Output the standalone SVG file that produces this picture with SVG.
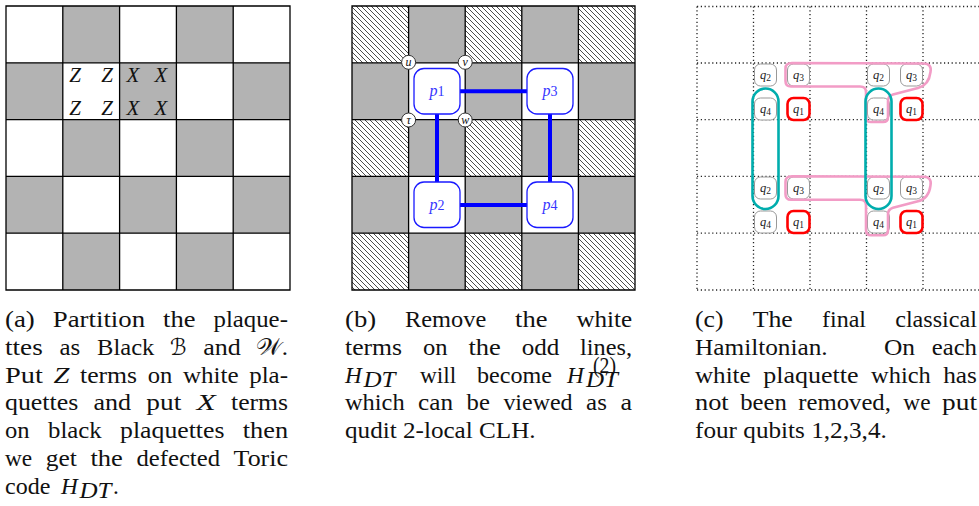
<svg xmlns="http://www.w3.org/2000/svg" width="979" height="506" viewBox="0 0 979 506">
<style>
.gray{fill:#b3b3b3}
.gl{stroke:#000;stroke-width:1.3;fill:none}
.dot{stroke:#222;stroke-width:1.3;stroke-dasharray:1.2 2.6;fill:none}
.cap text{font-family:"Liberation Serif","DejaVu Serif","DejaVu Sans",serif;font-size:23.3px;fill:#111}
.it{font-style:italic}
.mi{font-family:"Liberation Serif","DejaVu Serif",serif;font-style:italic;font-size:21px;fill:#111}
.pbox{fill:#fff;stroke:#1a1aff;stroke-width:1.3}
.plab{font-family:"Liberation Serif",serif;font-size:16px;fill:#3535ff;text-anchor:middle}
.edge{stroke:#0000ff;stroke-width:4;fill:none}
.vc{fill:#fff;stroke:#333;stroke-width:1}
.vl{font-family:"Liberation Serif",serif;font-style:italic;font-size:12px;fill:#111;text-anchor:middle}
.qb{fill:#fff;stroke:#999;stroke-width:1}
.qr{fill:#fff;stroke:#ff0000;stroke-width:2.6}
.ql{font-family:"Liberation Serif",serif;font-size:12.5px;fill:#222;text-anchor:middle}
.teal{fill:none;stroke:#00adad;stroke-width:2.6}
.pink{fill:none;stroke:#f29cc6;stroke-width:2.6}
</style>
<defs>
<pattern id="hatch" patternUnits="userSpaceOnUse" width="5" height="5">
<path d="M-1,-1 L6,6 M-1,4 L1,6 M4,-1 L6,1" stroke="#000" stroke-width="0.7"/>
</pattern>
<g id="qbox"><rect x="-11" y="-11" width="22" height="22" rx="6"/></g>
</defs>
<rect width="979" height="506" fill="#fff"/>

<!-- Panel (a) -->
<g id="panel-a">
<g class="gray">
<rect x="62.8" y="6" width="56.8" height="56.8"/><rect x="176.4" y="6" width="56.8" height="56.8"/>
<rect x="6" y="62.8" width="56.8" height="56.8"/><rect x="119.6" y="62.8" width="56.8" height="56.8"/><rect x="233.2" y="62.8" width="56.8" height="56.8"/>
<rect x="62.8" y="119.6" width="56.8" height="56.8"/><rect x="176.4" y="119.6" width="56.8" height="56.8"/>
<rect x="6" y="176.4" width="56.8" height="56.8"/><rect x="119.6" y="176.4" width="56.8" height="56.8"/><rect x="233.2" y="176.4" width="56.8" height="56.8"/>
<rect x="62.8" y="233.2" width="56.8" height="56.8"/><rect x="176.4" y="233.2" width="56.8" height="56.8"/>
</g>
<path class="gl" d="M6,6H290V290H6Z M62.8,6V290 M119.6,6V290 M176.4,6V290 M233.2,6V290 M6,62.8H290 M6,119.6H290 M6,176.4H290 M6,233.2H290"/>
<g class="mi" text-anchor="middle">
<text x="75" y="82">Z</text><text x="107" y="82">Z</text><text x="133" y="82">X</text><text x="161" y="82">X</text>
<text x="75" y="115">Z</text><text x="107" y="115">Z</text><text x="133" y="115">X</text><text x="161" y="115">X</text>
</g>
</g>

<!-- Panel (b) -->
<g id="panel-b">
<g class="gray">
<rect x="408.6" y="6" width="56.6" height="56.8"/><rect x="521.8" y="6" width="56.6" height="56.8"/>
<rect x="352" y="62.8" width="56.6" height="56.8"/><rect x="465.2" y="62.8" width="56.6" height="56.8"/><rect x="578.4" y="62.8" width="56.6" height="56.8"/>
<rect x="408.6" y="119.6" width="56.6" height="56.8"/><rect x="521.8" y="119.6" width="56.6" height="56.8"/>
<rect x="352" y="176.4" width="56.6" height="56.8"/><rect x="465.2" y="176.4" width="56.6" height="56.8"/><rect x="578.4" y="176.4" width="56.6" height="56.8"/>
<rect x="408.6" y="233.2" width="56.6" height="56.8"/><rect x="521.8" y="233.2" width="56.6" height="56.8"/>
</g>
<g fill="url(#hatch)">
<rect x="352" y="6" width="56.6" height="56.8"/><rect x="465.2" y="6" width="56.6" height="56.8"/><rect x="578.4" y="6" width="56.6" height="56.8"/>
<rect x="352" y="119.6" width="56.6" height="56.8"/><rect x="465.2" y="119.6" width="56.6" height="56.8"/><rect x="578.4" y="119.6" width="56.6" height="56.8"/>
<rect x="352" y="233.2" width="56.6" height="56.8"/><rect x="465.2" y="233.2" width="56.6" height="56.8"/><rect x="578.4" y="233.2" width="56.6" height="56.8"/>
</g>
<path class="gl" d="M352,6H635V290H352Z M408.6,6V290 M465.2,6V290 M521.8,6V290 M578.4,6V290 M352,62.8H635 M352,119.6H635 M352,176.4H635 M352,233.2H635"/>
</g>

<g id="connectors">
<path class="edge" d="M460,91.2H527 M460,205H527 M437,114V182 M550,114V182"/>
</g>

<g id="p1"><rect class="pbox" x="414" y="68.5" width="46" height="45.5" rx="10"/><text class="plab" x="437" y="96"><tspan font-style="italic">p</tspan><tspan font-size="14">1</tspan></text></g>
<g id="p3"><rect class="pbox" x="527" y="68.5" width="46" height="45.5" rx="10"/><text class="plab" x="550" y="96"><tspan font-style="italic">p</tspan><tspan font-size="14">3</tspan></text></g>
<g id="p2"><rect class="pbox" x="414" y="182" width="46" height="45.5" rx="10"/><text class="plab" x="437" y="209.5"><tspan font-style="italic">p</tspan><tspan font-size="14">2</tspan></text></g>
<g id="p4"><rect class="pbox" x="527" y="182" width="46" height="45.5" rx="10"/><text class="plab" x="550" y="209.5"><tspan font-style="italic">p</tspan><tspan font-size="14">4</tspan></text></g>

<g id="u"><circle class="vc" cx="408.6" cy="62.3" r="7"/><text class="vl" x="408.6" y="65.5">u</text></g>
<g id="v"><circle class="vc" cx="465.2" cy="62.3" r="7"/><text class="vl" x="465.2" y="65.5">v</text></g>
<g id="tau"><circle class="vc" cx="408.6" cy="120" r="7"/><text class="vl" x="408.6" y="123.5">τ</text></g>
<g id="w"><circle class="vc" cx="465.2" cy="120" r="7"/><text class="vl" x="465.2" y="123.5">w</text></g>

<!-- Panel (c) -->
<g id="panel-c">
<path class="dot" d="M697,6.5V290 M753.5,6.5V290 M810,6.5V290 M866.5,6.5V290 M923,6.5V290 M697,6.5H979 M697,63H979 M697,119.6H979 M697,176.4H979 M697,233.2H979 M697,290H979"/>
</g>

<g id="qubits">
<g class="qb">
<use href="#qbox" x="765.5" y="75"/><use href="#qbox" x="798.5" y="75"/><use href="#qbox" x="878.5" y="75"/><use href="#qbox" x="911.5" y="75"/>
<use href="#qbox" x="765.5" y="109"/><use href="#qbox" x="878.5" y="109"/>
<use href="#qbox" x="765.5" y="188"/><use href="#qbox" x="798.5" y="188"/><use href="#qbox" x="878.5" y="188"/><use href="#qbox" x="911.5" y="188"/>
<use href="#qbox" x="765.5" y="222"/><use href="#qbox" x="878.5" y="222"/>
</g>
<g class="qr">
<use href="#qbox" x="798.5" y="109"/><use href="#qbox" x="911.5" y="109"/>
<use href="#qbox" x="798.5" y="222"/><use href="#qbox" x="911.5" y="222"/>
</g>
<g class="ql">
<text x="765.5" y="79"><tspan font-style="italic">q</tspan><tspan font-size="9.5" dy="1.5">2</tspan></text>
<text x="798.5" y="79"><tspan font-style="italic">q</tspan><tspan font-size="9.5" dy="1.5">3</tspan></text>
<text x="878.5" y="79"><tspan font-style="italic">q</tspan><tspan font-size="9.5" dy="1.5">2</tspan></text>
<text x="911.5" y="79"><tspan font-style="italic">q</tspan><tspan font-size="9.5" dy="1.5">3</tspan></text>
<text x="765.5" y="113"><tspan font-style="italic">q</tspan><tspan font-size="9.5" dy="1.5">4</tspan></text>
<text x="798.5" y="113"><tspan font-style="italic">q</tspan><tspan font-size="9.5" dy="1.5">1</tspan></text>
<text x="878.5" y="113"><tspan font-style="italic">q</tspan><tspan font-size="9.5" dy="1.5">4</tspan></text>
<text x="911.5" y="113"><tspan font-style="italic">q</tspan><tspan font-size="9.5" dy="1.5">1</tspan></text>
<text x="765.5" y="192"><tspan font-style="italic">q</tspan><tspan font-size="9.5" dy="1.5">2</tspan></text>
<text x="798.5" y="192"><tspan font-style="italic">q</tspan><tspan font-size="9.5" dy="1.5">3</tspan></text>
<text x="878.5" y="192"><tspan font-style="italic">q</tspan><tspan font-size="9.5" dy="1.5">2</tspan></text>
<text x="911.5" y="192"><tspan font-style="italic">q</tspan><tspan font-size="9.5" dy="1.5">3</tspan></text>
<text x="765.5" y="226"><tspan font-style="italic">q</tspan><tspan font-size="9.5" dy="1.5">4</tspan></text>
<text x="798.5" y="226"><tspan font-style="italic">q</tspan><tspan font-size="9.5" dy="1.5">1</tspan></text>
<text x="878.5" y="226"><tspan font-style="italic">q</tspan><tspan font-size="9.5" dy="1.5">4</tspan></text>
<text x="911.5" y="226"><tspan font-style="italic">q</tspan><tspan font-size="9.5" dy="1.5">1</tspan></text>
</g>
</g>

<g id="groups">
<path class="pink" d="M792,63 L924,63.5 Q932,64 930.5,72 Q929,85 918,88 L893,94.5 Q888,96 888,101 L888,117 Q888,122 883,122 L871,122 Q866,122 866,117 L866,92 Q866,86.5 860,86.5 L791,86.5 Q785.5,86.5 785.5,81 L785.5,68.5 Q785.5,63 792,63 Z"/>
<path class="pink" transform="translate(0,113.3)" d="M792,63 L924,63.5 Q932,64 930.5,72 Q929,85 918,88 L893,94.5 Q888,96 888,101 L888,117 Q888,122 883,122 L871,122 Q866,122 866,117 L866,92 Q866,86.5 860,86.5 L791,86.5 Q785.5,86.5 785.5,81 L785.5,68.5 Q785.5,63 792,63 Z"/>
<rect class="teal" x="752.5" y="88.5" width="26" height="120.5" rx="13"/>
<rect class="teal" x="865.5" y="88.5" width="26" height="120.5" rx="13"/>
</g>

<!-- Captions -->
<g id="caption-a" class="cap">
<text x="5" y="327" textLength="29.8" lengthAdjust="spacingAndGlyphs">(a)</text>
<text x="52.8" y="327" textLength="92.3" lengthAdjust="spacingAndGlyphs">Partition</text>
<text x="163.1" y="327" textLength="32.4" lengthAdjust="spacingAndGlyphs">the</text>
<text x="213.5" y="327" textLength="74.4" lengthAdjust="spacingAndGlyphs">plaque-</text>
<text x="5" y="354.8" textLength="37.7" lengthAdjust="spacingAndGlyphs">ttes</text>
<text x="59.5" y="354.8" textLength="20.8" lengthAdjust="spacingAndGlyphs">as</text>
<text x="97.1" y="354.8" textLength="57.3" lengthAdjust="spacingAndGlyphs">Black</text>
<text x="170" y="354.8" textLength="16.5" lengthAdjust="spacingAndGlyphs">ℬ</text>
<text x="203.3" y="354.8" textLength="37.6" lengthAdjust="spacingAndGlyphs">and</text>
<text x="256" y="354.8" textLength="32" lengthAdjust="spacingAndGlyphs">𝒲.</text>
<text x="5" y="382.6" textLength="37.9" lengthAdjust="spacingAndGlyphs">Put</text>
<text x="53.5" y="382.6" class="it" textLength="15.9" lengthAdjust="spacingAndGlyphs">Z</text>
<text x="80" y="382.6" textLength="57.1" lengthAdjust="spacingAndGlyphs">terms</text>
<text x="147.7" y="382.6" textLength="24.6" lengthAdjust="spacingAndGlyphs">on</text>
<text x="182.9" y="382.6" textLength="55.7" lengthAdjust="spacingAndGlyphs">white</text>
<text x="249.2" y="382.6" textLength="38.8" lengthAdjust="spacingAndGlyphs">pla-</text>
<text x="5" y="410.4" textLength="73.3" lengthAdjust="spacingAndGlyphs">quettes</text>
<text x="93.5" y="410.4" textLength="37.6" lengthAdjust="spacingAndGlyphs">and</text>
<text x="146.3" y="410.4" textLength="35" lengthAdjust="spacingAndGlyphs">put</text>
<text x="196.5" y="410.4" class="it" textLength="19.3" lengthAdjust="spacingAndGlyphs">X</text>
<text x="231" y="410.4" textLength="57.1" lengthAdjust="spacingAndGlyphs">terms</text>
<text x="5" y="438.2" textLength="24.6" lengthAdjust="spacingAndGlyphs">on</text>
<text x="48" y="438.2" textLength="53.7" lengthAdjust="spacingAndGlyphs">black</text>
<text x="120.1" y="438.2" textLength="104.3" lengthAdjust="spacingAndGlyphs">plaquettes</text>
<text x="242.8" y="438.2" textLength="45.3" lengthAdjust="spacingAndGlyphs">then</text>
<text x="5" y="466" textLength="27.2" lengthAdjust="spacingAndGlyphs">we</text>
<text x="45.8" y="466" textLength="31.1" lengthAdjust="spacingAndGlyphs">get</text>
<text x="90.5" y="466" textLength="32.4" lengthAdjust="spacingAndGlyphs">the</text>
<text x="136.5" y="466" textLength="83.5" lengthAdjust="spacingAndGlyphs">defected</text>
<text x="233.6" y="466" textLength="54.4" lengthAdjust="spacingAndGlyphs">Toric</text>
<text x="5" y="493.8" textLength="45.3" lengthAdjust="spacingAndGlyphs">code</text>
<text x="61" y="493.8" class="it">H</text>
<text x="79.5" y="498.3" class="it" font-size="16.5" textLength="32" lengthAdjust="spacingAndGlyphs">DT</text>
<text x="113" y="493.8">.</text>
</g>

<g id="caption-b" class="cap">
<text x="345" y="327" textLength="31.1" lengthAdjust="spacingAndGlyphs">(b)</text>
<text x="405" y="327" textLength="81.2" lengthAdjust="spacingAndGlyphs">Remove</text>
<text x="515.1" y="327" textLength="32.4" lengthAdjust="spacingAndGlyphs">the</text>
<text x="576.4" y="327" textLength="55.7" lengthAdjust="spacingAndGlyphs">white</text>
<text x="345" y="354.8" textLength="57.1" lengthAdjust="spacingAndGlyphs">terms</text>
<text x="423" y="354.8" textLength="24.6" lengthAdjust="spacingAndGlyphs">on</text>
<text x="468.4" y="354.8" textLength="32.4" lengthAdjust="spacingAndGlyphs">the</text>
<text x="521.7" y="354.8" textLength="37.6" lengthAdjust="spacingAndGlyphs">odd</text>
<text x="580.1" y="354.8" textLength="51.9" lengthAdjust="spacingAndGlyphs">lines,</text>
<text x="345" y="382.6" class="it">H</text>
<text x="363.5" y="387" class="it" font-size="16.5" textLength="32" lengthAdjust="spacingAndGlyphs">DT</text>
<text x="420" y="382.6" textLength="36.3" lengthAdjust="spacingAndGlyphs">will</text>
<text x="477" y="382.6" textLength="75" lengthAdjust="spacingAndGlyphs">become</text>
<text x="567" y="382.6" class="it">H</text>
<text x="593" y="373" font-size="15" textLength="23" lengthAdjust="spacingAndGlyphs">(2)</text>
<text x="586" y="387" class="it" font-size="16.5" textLength="32" lengthAdjust="spacingAndGlyphs">DT</text>
<text x="345" y="410.4" textLength="59.6" lengthAdjust="spacingAndGlyphs">which</text>
<text x="418.1" y="410.4" textLength="35" lengthAdjust="spacingAndGlyphs">can</text>
<text x="466.6" y="410.4" textLength="23.3" lengthAdjust="spacingAndGlyphs">be</text>
<text x="503.4" y="410.4" textLength="69.2" lengthAdjust="spacingAndGlyphs">viewed</text>
<text x="586.1" y="410.4" textLength="20.8" lengthAdjust="spacingAndGlyphs">as</text>
<text x="620.4" y="410.4" textLength="11.6" lengthAdjust="spacingAndGlyphs">a</text>
<text x="345" y="438.2" textLength="190.6" lengthAdjust="spacingAndGlyphs">qudit 2-local CLH.</text>
</g>

<g id="caption-c" class="cap">
<text x="695" y="327" textLength="28.5" lengthAdjust="spacingAndGlyphs">(c)</text>
<text x="752.7" y="327" textLength="40.1" lengthAdjust="spacingAndGlyphs">The</text>
<text x="822" y="327" textLength="44" lengthAdjust="spacingAndGlyphs">final</text>
<text x="895.2" y="327" textLength="81.8" lengthAdjust="spacingAndGlyphs">classical</text>
<text x="695" y="354.8" textLength="132.7" lengthAdjust="spacingAndGlyphs">Hamiltonian.</text>
<text x="884" y="354.8" textLength="31.1" lengthAdjust="spacingAndGlyphs">On</text>
<text x="931.7" y="354.8" textLength="45.3" lengthAdjust="spacingAndGlyphs">each</text>
<text x="695" y="382.6" textLength="55.7" lengthAdjust="spacingAndGlyphs">white</text>
<text x="763.3" y="382.6" textLength="95.2" lengthAdjust="spacingAndGlyphs">plaquette</text>
<text x="871.1" y="382.6" textLength="59.6" lengthAdjust="spacingAndGlyphs">which</text>
<text x="943.2" y="382.6" textLength="33.8" lengthAdjust="spacingAndGlyphs">has</text>
<text x="695" y="410.4" textLength="33.7" lengthAdjust="spacingAndGlyphs">not</text>
<text x="740.2" y="410.4" textLength="46.6" lengthAdjust="spacingAndGlyphs">been</text>
<text x="798.3" y="410.4" textLength="92.6" lengthAdjust="spacingAndGlyphs">removed,</text>
<text x="903.3" y="410.4" textLength="27.2" lengthAdjust="spacingAndGlyphs">we</text>
<text x="942" y="410.4" textLength="35" lengthAdjust="spacingAndGlyphs">put</text>
<text x="695" y="438.2" textLength="191.8" lengthAdjust="spacingAndGlyphs">four qubits 1,2,3,4.</text>
</g>
</svg>
